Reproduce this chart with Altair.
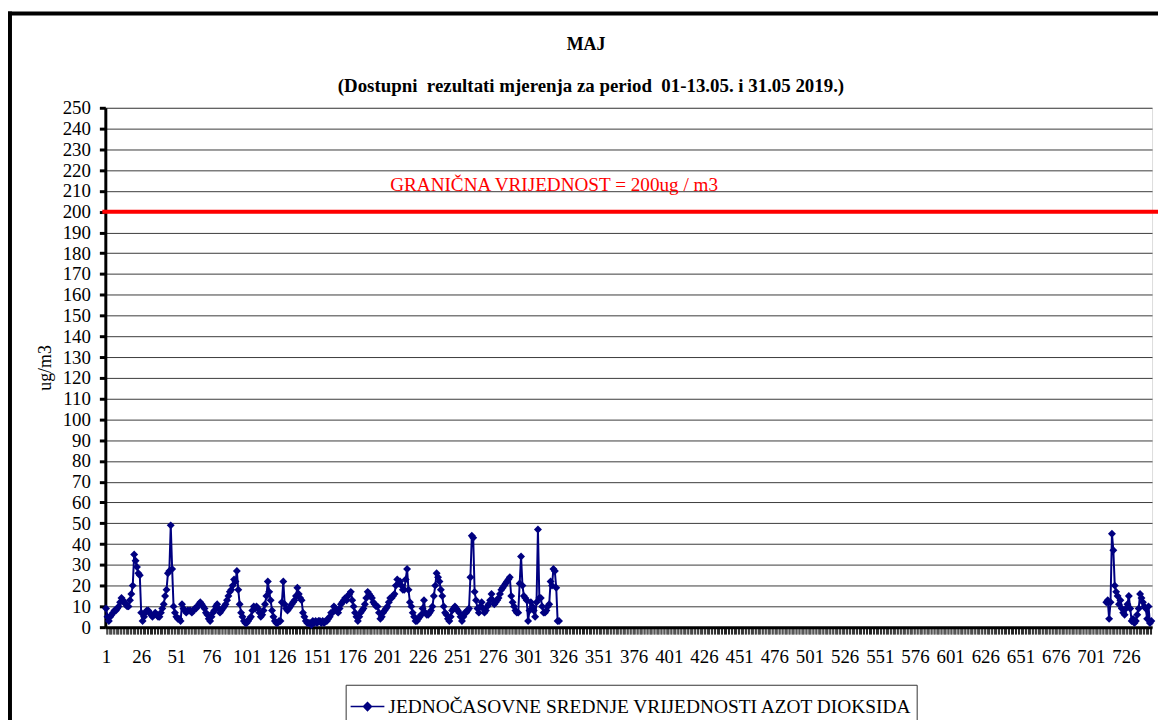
import altair as alt
import pandas as pd

# ---- data ----
values_a = [
    9, 5, 3, 5, 6, 7, 8, 8, 9, 10,
    12, 14, 13, 12, 11, 10, 10, 13, 16, 20,
    35, 32, 29, 26, 25, 7, 3, 5, 7, 8,
    8, 7, 6, 5, 6, 7, 6, 5, 5, 7,
    9, 11, 15, 18, 26, 27, 49, 28, 10, 7,
    5, 4, 4, 3, 11, 9, 8, 7, 8, 8,
    8, 7, 8, 9, 9, 10, 11, 12, 11, 10,
    9, 7, 6, 4, 3, 5, 7, 8, 10, 11,
    9, 7, 8, 9, 10, 11, 13, 15, 17, 18,
    20, 23, 22, 27, 18, 11, 7, 5, 3, 2,
    2, 3, 4, 5, 8, 10, 9, 10, 9, 7,
    5, 6, 8, 11, 15, 22, 17, 13, 8, 5,
    3, 2, 2, 3, 3, 12, 22, 11, 9, 8,
    9, 10, 11, 12, 13, 15, 19, 16, 14, 13,
    7, 5, 3, 2, 2, 2, 1, 3, 2, 3,
    2, 3, 3, 2, 3, 2, 3, 3, 4, 5,
    7, 7, 10, 9, 8, 7, 9, 11, 12, 13,
    14, 13, 15, 16, 17, 13, 10, 7, 5, 3,
    5, 7, 8, 9, 11, 14, 17, 16, 15, 14,
    12, 11, 10, 10, 7, 4, 5, 7, 8, 9,
    10, 12, 14, 14, 15, 16, 20, 23, 21, 22,
    20, 18, 18, 23, 28, 18, 12, 10, 7, 5,
    3, 3, 4, 5, 6, 9, 13, 7, 6, 6,
    7, 8, 10, 15, 20, 26, 24, 22, 18, 15,
    10, 7, 6, 4, 3, 5, 8, 9, 10, 9,
    8, 7, 5, 3, 5, 7, 7, 8, 9, 24,
    44, 43, 17, 13, 9, 7, 10, 12, 9, 7,
    8, 10, 11, 13, 16, 13, 11, 12, 13, 14,
    16, 18, 19, 20, 21, 22, 23, 24, 15, 12,
    10, 8, 7, 7, 21, 34, 20, 15, 14, 13,
    3, 8, 12, 10, 8, 5, 12, 47, 14, 14,
    10, 7, 7, 8, 10, 11, 22, 20, 28, 27,
    19, 3, 3,
]
values_b = [
    12, 13, 4, 12, 45, 37, 20, 17, 15, 11,
    13, 9, 7, 6, 9, 11, 15, 9, 3, 4,
    2, 3, 6, 9, 16, 14, 12, 10, 9, 4,
    10, 2, 3,
]
total_hours = 744
hours_a = list(range(1, 1 + len(values_a)))
hours_b = list(range(total_hours + 1 - len(values_b), total_hours + 1))
x_ticks = list(range(1, total_hours + 1))
y_ticks = list(range(0, 251, 10))
limit_value = 200
limit_label = "GRANIČNA VRIJEDNOST = 200ug / m3"
limit_label_x = 203
limit_label_y = 213
series_name = "JEDNOČASOVNE SREDNJE VRIJEDNOSTI AZOT DIOKSIDA"
title_text = "MAJ"
subtitle_text = "(Dostupni\u00a0 rezultati mjerenja za period\u00a0 01-13.05. i 31.05 2019.)"

FONT = "Liberation Serif"
NAVY = "#000080"
W, H = 1054, 523

df = pd.DataFrame({
    "sat": hours_a + hours_b,
    "v": values_a + values_b,
    "seg": ["a"] * len(values_a) + ["b"] * len(values_b),
    "serija": [series_name] * (len(values_a) + len(values_b)),
})

x_enc = alt.X(
    "sat:Q",
    scale=alt.Scale(domain=[0.5, total_hours + 0.5], nice=False, zero=False),
    axis=alt.Axis(
        values=x_ticks, tickCount=len(x_ticks),
        labelExpr="(datum.value - 1) % 25 == 0 ? datum.value : ''",
        labelOverlap=False, labelFlush=False, grid=False,
        tickSize=7, tickWidth=1, tickColor="#222222",
        domainColor="black", domainWidth=3,
        labelFont=FONT, labelFontSize=19, labelColor="black", labelPadding=14,
        title=None,
    ),
)
y_enc = alt.Y(
    "v:Q",
    scale=alt.Scale(domain=[0, 250], nice=False),
    axis=alt.Axis(
        values=y_ticks, tickCount=len(y_ticks), labelOverlap=False,
        grid=True, gridColor="#3a3a3a", gridWidth=1,
        tickSize=6, tickWidth=3, tickColor="black",
        domainColor="black", domainWidth=3,
        labelFont=FONT, labelFontSize=19, labelColor="black", labelPadding=9,
        title="ug/m3", titleFont=FONT, titleFontSize=18, titleFontWeight="normal",
        titleColor="black", titlePadding=8,
    ),
)
color_enc = alt.Color(
    "serija:N",
    scale=alt.Scale(range=[NAVY]),
    legend=alt.Legend(
        title=None, orient="none", legendX=242, legendY=581,
        strokeColor="#333333", fillColor="white", padding=4,
        labelFont=FONT, labelFontSize=19.5, labelColor="black", labelOffset=3,
        labelLimit=0,
        symbolType="M-1,0L1,0M0,-0.235L0.235,0L0,0.235L-0.235,0Z",
        symbolSize=1156, symbolStrokeWidth=1.5,
        symbolFillColor=NAVY, symbolStrokeColor=NAVY,
    ),
)

line = alt.Chart(df).mark_line(strokeWidth=2).encode(
    x=x_enc, y=y_enc, detail="seg:N", color=color_enc
)
points = alt.Chart(df).mark_point(shape="diamond", filled=True, size=64, opacity=1).encode(
    x=x_enc, y=y_enc, color=color_enc
)

limit_rule = alt.Chart(pd.DataFrame({"g": [limit_value]})).mark_rule(
    color="#FF0000", strokeWidth=4
).encode(y="g:Q", x=alt.value(-3), x2=alt.value(W + 10))

limit_text = alt.Chart(pd.DataFrame({
    "x": [limit_label_x], "y": [limit_label_y], "t": [limit_label]
})).mark_text(
    align="left", baseline="middle", color="#FF0000", font=FONT, fontSize=19.3
).encode(x="x:Q", y="y:Q", text="t:N")

titles = alt.Chart(pd.DataFrame({"t": [title_text]})).mark_text(
    align="center", baseline="middle", font=FONT, fontSize=18,
    fontWeight="bold", color="black"
).encode(x=alt.value(484), y=alt.value(-63), text="t:N")
subtitles = alt.Chart(pd.DataFrame({"t": [subtitle_text]})).mark_text(
    align="center", baseline="middle", font=FONT, fontSize=19,
    fontWeight="bold", color="black"
).encode(x=alt.value(489), y=alt.value(-22), text="t:N")

frame_left = alt.Chart(pd.DataFrame({"k": [0]})).mark_rule(
    color="black", strokeWidth=4
).encode(x=alt.value(-96), y=alt.value(-97), y2=alt.value(H + 200))
frame_top = alt.Chart(pd.DataFrame({"k": [0]})).mark_rule(
    color="black", strokeWidth=4
).encode(x=alt.value(-98), x2=alt.value(W + 100), y=alt.value(-95))

chart = alt.layer(
    line, points, limit_rule, limit_text, titles, subtitles, frame_left, frame_top
).properties(
    width=W, height=H,
    autosize=alt.AutoSizeParams(type="none"),
    padding={"left": 98, "top": 98, "right": 6, "bottom": 91},
).configure_view(
    stroke="#808080", strokeWidth=1
).configure(
    background="white"
)

chart.save("out.html", embed_options={"renderer": "svg", "actions": False})
